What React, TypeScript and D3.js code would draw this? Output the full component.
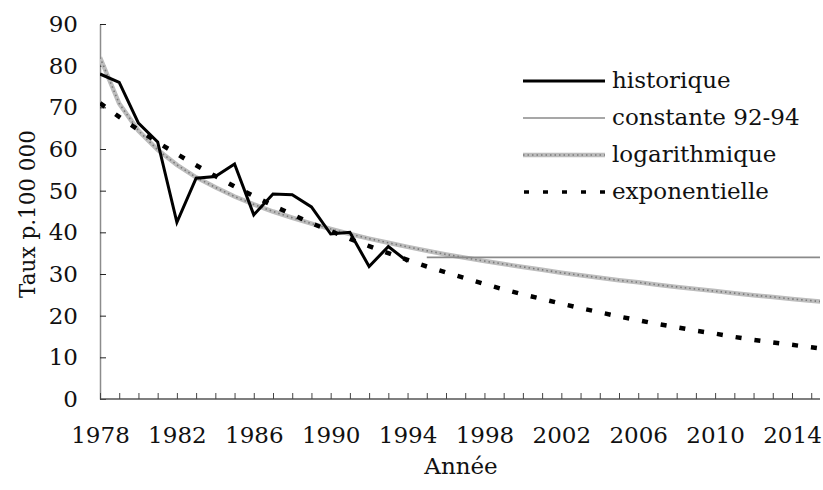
import * as d3 from "d3";
import { useEffect, useRef } from "react";

// années : première année de chaque série
const firstYear = 1978;
const labelYears = [1978, 1982, 1986, 1990, 1994, 1998, 2002, 2006, 2010, 2014];
const yTicks = [0, 10, 20, 30, 40, 50, 60, 70, 80, 90];

// taux historique 1978-1994
const historique = [78, 76, 66.2, 61.7, 42.4, 53, 53.4, 56.4, 44.2, 49.2, 49, 46.1, 39.6, 40, 31.8, 36.6, 33];

// projection constante (moyenne 92-94)
const constanteYears = [1995, 2016];
const constante = [34, 34];

// tendance logarithmique 1978-2016
const logarithmique = [
  82.0, 70.9, 64.4, 59.8, 56.2, 53.2, 50.8, 48.6, 46.7, 45.0,
  43.5, 42.1, 40.8, 39.6, 38.5, 37.5, 36.5, 35.6, 34.7, 33.9,
  33.1, 32.4, 31.7, 31.0, 30.3, 29.7, 29.1, 28.5, 28.0, 27.4,
  26.9, 26.4, 25.9, 25.4, 24.9, 24.5, 24.0, 23.6, 23.2,
];

// tendance exponentielle 1978-2016
const exponentielle = [
  71.0, 67.7, 64.6, 61.6, 58.8, 56.1, 53.5, 51.0, 48.7, 46.4,
  44.3, 42.2, 40.3, 38.4, 36.7, 35.0, 33.4, 31.8, 30.4, 29.0,
  27.6, 26.3, 25.1, 24.0, 22.9, 21.8, 20.8, 19.8, 18.9, 18.0,
  17.2, 16.4, 15.7, 14.9, 14.2, 13.6, 13.0, 12.4, 11.8,
];

const legendItems = ["historique", "constante 92-94", "logarithmique", "exponentielle"];

const width = 823;
const height = 490;
const font = "'DejaVu Serif', serif";
const fs = 23;

const App = () => {
  const ref = useRef(null);

  useEffect(() => {
    const svg = d3.select(ref.current);
    svg.selectAll("*").remove();

    const x = d3.scaleLinear().domain([1978, 2014]).range([100, 792]);
    const y = d3.scaleLinear().domain([0, 90]).range([399, 24]);

    svg.append("rect").attr("width", width).attr("height", height).attr("fill", "#fff");

    svg.append("defs").append("clipPath").attr("id", "plot")
      .append("rect").attr("x", 100).attr("y", 0).attr("width", 720).attr("height", 402);

    // axes
    const yAxis = d3.axisLeft(y).tickValues(yTicks).tickSizeInner(-6).tickSizeOuter(0).tickPadding(22);
    const gy = svg.append("g").attr("transform", "translate(100,0)").call(yAxis);
    gy.select(".domain").attr("stroke", "#8c8c8c").attr("stroke-width", 1.5);
    gy.selectAll(".tick line").attr("stroke", "#222");
    gy.selectAll("text").attr("font-family", font).attr("font-size", fs).attr("fill", "#111");

    const years = d3.range(1978, 2016);
    const xAxis = d3.axisBottom(x).tickValues(years).tickSizeInner(-6).tickSizeOuter(0).tickPadding(28)
      .tickFormat(d => (labelYears.includes(d as number) ? String(d) : ""));
    const gx = svg.append("g").attr("transform", "translate(0,399)").call(xAxis);
    gx.select(".domain").attr("d", "M100,0H820").attr("stroke", "#555").attr("stroke-width", 1.5);
    gx.selectAll(".tick line").attr("stroke", "#444");
    gx.selectAll("text").attr("font-family", font).attr("font-size", fs).attr("fill", "#111");

    // titres des axes
    svg.append("text").attr("x", 461).attr("y", 474).attr("text-anchor", "middle")
      .attr("font-family", font).attr("font-size", fs).attr("fill", "#111").text("Année");
    svg.append("text").attr("transform", "translate(35,214) rotate(-90)").attr("text-anchor", "middle")
      .attr("font-family", font).attr("font-size", 21.5).attr("fill", "#111").text("Taux p.100 000");

    const plot = svg.append("g").attr("clip-path", "url(#plot)");
    const line = d3.line<[number, number]>().x(d => x(d[0])).y(d => y(d[1]));
    const pts = (vals: number[], start: number) => vals.map((v, i) => [start + i, v] as [number, number]);

    // logarithmique : trait gris texturé
    plot.append("path").attr("d", line(pts(logarithmique, firstYear)))
      .attr("fill", "none").attr("stroke", "#bdbdbd").attr("stroke-width", 4.5);
    plot.append("path").attr("d", line(pts(logarithmique, firstYear)))
      .attr("fill", "none").attr("stroke", "#7a7a7a").attr("stroke-width", 1.6).attr("stroke-dasharray", "1.5,3");

    // constante
    plot.append("path").attr("d", line(constanteYears.map((yr, i) => [yr, constante[i]] as [number, number])))
      .attr("fill", "none").attr("stroke", "#8a8a8a").attr("stroke-width", 1.6);

    // exponentielle
    plot.append("path").attr("d", line(pts(exponentielle, firstYear)))
      .attr("fill", "none").attr("stroke", "#000").attr("stroke-width", 4.5).attr("stroke-dasharray", "6,13");

    // historique
    plot.append("path").attr("d", line(pts(historique, firstYear)))
      .attr("fill", "none").attr("stroke", "#000").attr("stroke-width", 3);

    // légende
    const lg = svg.append("g");
    legendItems.forEach((name, i) => {
      const ly = 81 + i * 37;
      const g = lg.append("g");
      if (i === 0) {
        g.append("line").attr("x1", 523).attr("x2", 605).attr("y1", ly).attr("y2", ly)
          .attr("stroke", "#000").attr("stroke-width", 3);
      } else if (i === 1) {
        g.append("line").attr("x1", 523).attr("x2", 605).attr("y1", ly).attr("y2", ly)
          .attr("stroke", "#8a8a8a").attr("stroke-width", 1.6);
      } else if (i === 2) {
        g.append("line").attr("x1", 523).attr("x2", 605).attr("y1", ly).attr("y2", ly)
          .attr("stroke", "#bdbdbd").attr("stroke-width", 4.5);
        g.append("line").attr("x1", 523).attr("x2", 605).attr("y1", ly).attr("y2", ly)
          .attr("stroke", "#7a7a7a").attr("stroke-width", 1.6).attr("stroke-dasharray", "1.5,3");
      } else {
        g.append("line").attr("x1", 524).attr("x2", 610).attr("y1", ly).attr("y2", ly)
          .attr("stroke", "#000").attr("stroke-width", 3.5).attr("stroke-dasharray", "5,14");
      }
      g.append("text").attr("x", 612).attr("y", ly).attr("dy", "0.32em")
        .attr("font-family", font).attr("font-size", fs).attr("fill", "#111").text(name);
    });
  }, []);

  return (
    <svg ref={ref} width={width} height={height}
      style={{ position: "absolute", left: 0, top: 0, display: "block" }} />
  );
};

export default App;
